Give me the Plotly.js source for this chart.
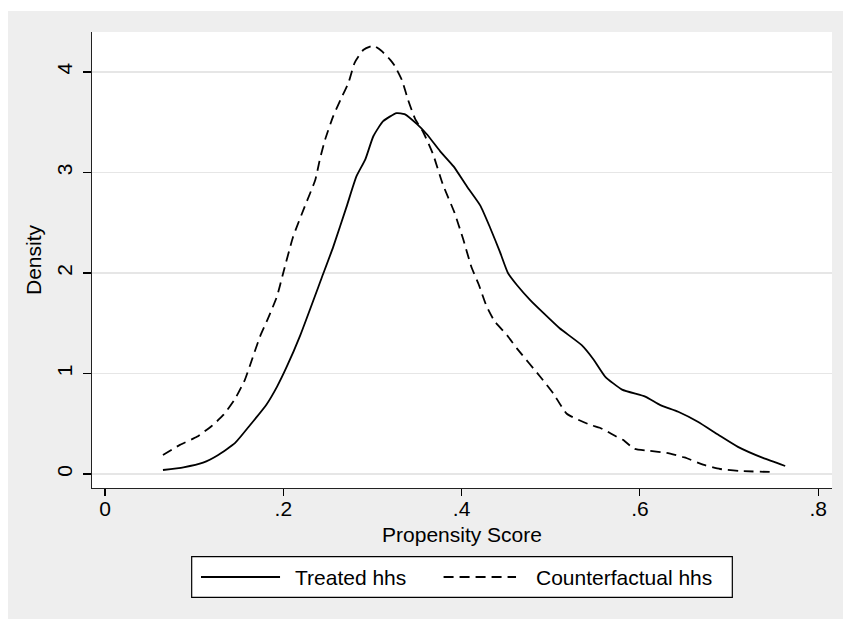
<!DOCTYPE html>
<html>
<head>
<meta charset="utf-8">
<script src="https://cdn.plot.ly/plotly-3.0.1.min.js"></script>
<style>
  html, body { margin: 0; padding: 0; background: #ffffff; width: 843px; height: 619px; overflow: hidden; }
  #chart { position: absolute; left: 8px; top: 11px; width: 835px; height: 608px; }
</style>
</head>
<body>
<div id="chart"></div>
<script>
// Propensity score (x) and kernel density (y)
const treatedX = [0.065, 0.088, 0.110, 0.127, 0.146, 0.163, 0.181, 0.193, 0.204, 0.219, 0.243, 0.256, 0.271, 0.282, 0.292, 0.301, 0.312, 0.327, 0.336, 0.350, 0.361, 0.376, 0.391, 0.406, 0.421, 0.432, 0.443, 0.452, 0.462, 0.477, 0.492, 0.510, 0.535, 0.548, 0.561, 0.580, 0.606, 0.623, 0.643, 0.665, 0.688, 0.710, 0.738, 0.763];
const treatedY = [0.04, 0.067, 0.113, 0.19, 0.31, 0.49, 0.69, 0.87, 1.07, 1.38, 1.95, 2.26, 2.66, 2.96, 3.13, 3.36, 3.51, 3.59, 3.58, 3.48, 3.38, 3.21, 3.06, 2.86, 2.67, 2.45, 2.21, 2.00, 1.88, 1.73, 1.60, 1.45, 1.28, 1.14, 0.97, 0.84, 0.77, 0.685, 0.62, 0.52, 0.39, 0.27, 0.16, 0.08];

const counterX = [0.065, 0.084, 0.103, 0.120, 0.133, 0.146, 0.157, 0.163, 0.174, 0.183, 0.193, 0.199, 0.211, 0.224, 0.236, 0.241, 0.247, 0.256, 0.264, 0.273, 0.280, 0.290, 0.301, 0.310, 0.320, 0.325, 0.333, 0.340, 0.348, 0.357, 0.368, 0.379, 0.392, 0.402, 0.411, 0.419, 0.428, 0.437, 0.451, 0.462, 0.488, 0.503, 0.518, 0.544, 0.555, 0.566, 0.574, 0.581, 0.594, 0.611, 0.630, 0.650, 0.672, 0.690, 0.712, 0.748];
const counterY = [0.19, 0.29, 0.37, 0.48, 0.59, 0.75, 0.94, 1.09, 1.37, 1.55, 1.77, 1.97, 2.36, 2.66, 2.93, 3.13, 3.33, 3.56, 3.72, 3.89, 4.09, 4.22, 4.26, 4.21, 4.12, 4.06, 3.92, 3.72, 3.53, 3.40, 3.18, 2.88, 2.60, 2.33, 2.06, 1.89, 1.67, 1.52, 1.38, 1.25, 0.97, 0.80, 0.60, 0.49, 0.46, 0.41, 0.37, 0.34, 0.25, 0.23, 0.21, 0.165, 0.09, 0.05, 0.03, 0.02];

const xTickVals = [0, 0.2, 0.4, 0.6, 0.8];
const xTickText = ["0", ".2", ".4", ".6", ".8"];
const yTickVals = [0, 1, 2, 3, 4];
const yTickText = ["0", "1", "2", "3", "4"];
const seriesNames = ["Treated hhs", "Counterfactual hhs"];

const FONT = "Liberation Sans, Arial, Helvetica, sans-serif";
const FS = 21;

const traces = [
  { x: treatedX, y: treatedY, type: "scatter", mode: "lines", name: seriesNames[0],
    line: { color: "#000000", width: 1.8, shape: "spline", smoothing: 0.5 }, showlegend: false, hoverinfo: "skip" },
  { x: counterX, y: counterY, type: "scatter", mode: "lines", name: seriesNames[1],
    line: { color: "#000000", width: 1.8, dash: "10px,6px", shape: "spline", smoothing: 0.5 }, showlegend: false, hoverinfo: "skip" }
];

const legY = -0.1952;
const layout = {
  width: 835, height: 608,
  margin: { l: 84, r: 11, t: 21, b: 131, pad: 0 },
  paper_bgcolor: "#eeeeee",
  plot_bgcolor: "#ffffff",
  font: { family: FONT, size: FS, color: "#000000" },
  showlegend: false,
  xaxis: {
    range: [-0.0146, 0.8155], tickvals: xTickVals, ticktext: xTickText,
    ticks: "outside", ticklen: 7, tickwidth: 1.2, tickcolor: "#000000",
    showline: true, linecolor: "#222222", linewidth: 1.3,
    showgrid: false, zeroline: false, automargin: false,
    ticklabelstandoff: -6,
    tickfont: { family: FONT, size: FS, color: "#000000" },
    title: { text: "Propensity Score", font: { family: FONT, size: FS, color: "#000000" }, standoff: 8 }
  },
  yaxis: {
    range: [-0.139, 4.397], tickvals: yTickVals, ticktext: yTickText, tickangle: -90,
    ticks: "outside", ticklen: 8, tickwidth: 1.2, tickcolor: "#000000",
    showline: true, linecolor: "#222222", linewidth: 1.3,
    showgrid: true, gridcolor: "#e6e6e6", gridwidth: 1.5, zeroline: false, automargin: false,
    ticklabelstandoff: 2,
    tickfont: { family: FONT, size: FS, color: "#000000" },
    title: { text: "Density", font: { family: FONT, size: FS, color: "#000000" }, standoff: 6 }
  },
  shapes: [
    { type: "rect", xref: "paper", yref: "paper", x0: 0.1347, x1: 0.8653, y0: -0.1507, y1: -0.2397,
      fillcolor: "#ffffff", line: { color: "#000000", width: 1.2 }, layer: "above" },
    { type: "line", xref: "paper", yref: "paper", x0: 0.1473, x1: 0.2541, y0: legY, y1: legY,
      line: { color: "#000000", width: 1.8 } },
    { type: "line", xref: "paper", yref: "paper", x0: 0.4751, x1: 0.5730, y0: legY, y1: legY,
      line: { color: "#000000", width: 1.8, dash: "10px,6px" } }
  ],
  annotations: [
    { xref: "paper", yref: "paper", x: 0.271, y: legY, xanchor: "left", yanchor: "middle", showarrow: false,
      text: seriesNames[0], font: { family: FONT, size: FS, color: "#000000" } },
    { xref: "paper", yref: "paper", x: 0.597, y: legY, xanchor: "left", yanchor: "middle", showarrow: false,
      text: seriesNames[1], font: { family: FONT, size: FS, color: "#000000" } }
  ]
};

Plotly.newPlot("chart", traces, layout, { staticPlot: true, displayModeBar: false });
</script>
</body>
</html>
